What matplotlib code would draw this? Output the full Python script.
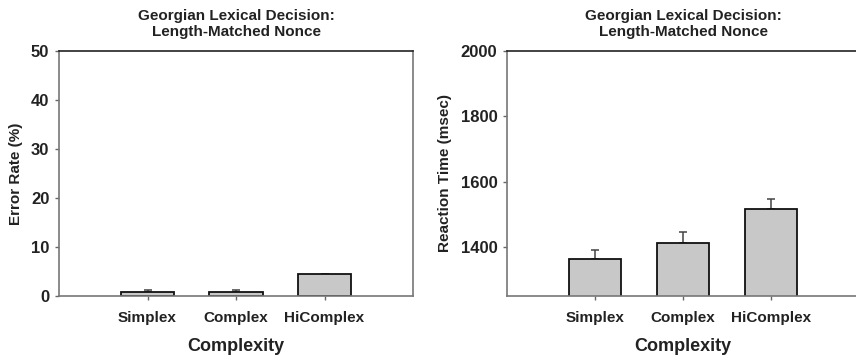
import matplotlib
matplotlib.use("Agg")
import matplotlib.pyplot as plt
import numpy as np

categories = ["Simplex", "Complex", "HiComplex"]
error_rate = [0.9, 0.8, 4.4]
error_rate_err = [0.3, 0.35, 0.15]
reaction_time = [1363, 1414, 1516]
reaction_time_err = [29, 34, 32]

title = "Georgian Lexical Decision:\nLength-Matched Nonce"

plt.rcParams["font.family"] = ["Liberation Sans", "DejaVu Sans"]
plt.rcParams["font.weight"] = "bold"

W, H = 856, 358
fig = plt.figure(figsize=(W / 100, H / 100), dpi=100)


def px_axes(left, top, width, height):
    return fig.add_axes([left / W, (H - top - height) / H, width / W, height / H])


def draw_panel(ax, values, errs, ylim, yticks, ylabel):
    x = np.arange(len(categories))
    ax.bar(x, values, width=0.6, color="#c8c8c8", edgecolor="#111111",
           linewidth=1.3, zorder=2)
    ax.errorbar(x, values, yerr=[np.zeros(len(errs)), errs], fmt="none",
                ecolor="#444444", elinewidth=1.1, capsize=3, capthick=1.1,
                zorder=1)
    ax.set_xlim(-1, 3)
    ax.set_ylim(*ylim)
    ax.set_xticks(x)
    ax.set_xticklabels(categories, fontsize=11, fontweight="bold", color="#222222")
    ax.set_yticks(yticks)
    ax.set_yticklabels([str(t) for t in yticks], fontsize=12,
                       fontweight="bold", color="#222222")
    ax.tick_params(axis="both", direction="out", length=3, width=1,
                   color="#666666", pad=4)
    ax.tick_params(axis="x", pad=8)
    ax.set_xlabel("Complexity", fontsize=13, fontweight="bold",
                  color="#222222", labelpad=9)
    ax.set_ylabel(ylabel, fontsize=11, fontweight="bold", color="#222222",
                  labelpad=6)
    ax.set_title(title, fontsize=11, fontweight="bold", color="#222222", pad=11)
    for side in ["left", "right", "bottom"]:
        ax.spines[side].set_color("#777777")
        ax.spines[side].set_linewidth(1.2)
    ax.spines["top"].set_color("#222222")
    ax.spines["top"].set_linewidth(1.2)


ax1 = px_axes(59, 51, 354, 245)
draw_panel(ax1, error_rate, error_rate_err, (0, 50), [0, 10, 20, 30, 40, 50],
           "Error Rate (%)")

ax2 = px_axes(507, 51, 352, 245)
draw_panel(ax2, reaction_time, reaction_time_err, (1251, 2000),
           [1400, 1600, 1800, 2000], "Reaction Time (msec)")

fig.savefig("out.png", dpi=100)
